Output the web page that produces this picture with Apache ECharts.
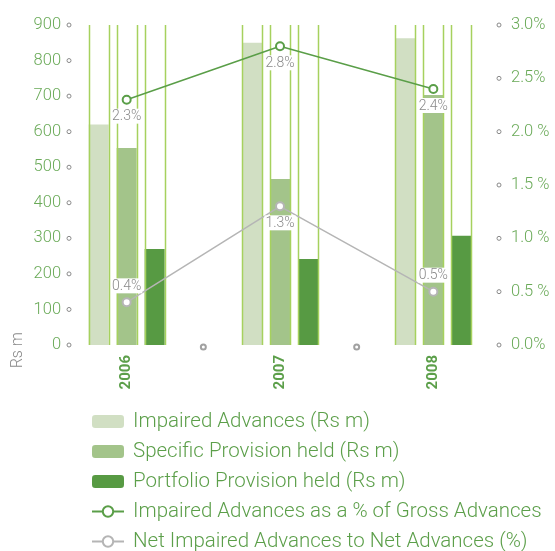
<!DOCTYPE html>
<html>
<head>
<meta charset="utf-8">
<style>
  html, body { margin: 0; padding: 0; background: #fff; }
  #chart { width: 555px; height: 551px; }
</style>
<script src="https://cdn.jsdelivr.net/npm/echarts@6/dist/echarts.min.js"></script>
</head>
<body>
<div id="chart"></div>
<script>
// Years on the category axis
const years = ['2006', '2007', '2008'];

// Amounts in Rs m
const impairedAdvances = [620, 850, 863];
const specificProvision = [554, 467, 703];
const portfolioProvision = [270, 242, 307];

// Ratios in %
const impairedPctGross = [2.3, 2.8, 2.4];
const netImpairedPct = [0.4, 1.3, 0.5];

// Tick labels
const leftTicks = ['0', '100', '200', '300', '400', '500', '600', '700', '800', '900'];
const rightTicks = ['0.0%', '0.5 %', '1.0 %', '1.5 %', '2.0 %', '2.5%', '3.0%'];

// Label placement for the net ratio line
const netLabelPlacement = ['top', 'bottom', 'top'];

// Small hollow markers between the year groups on the baseline
const groupSeparators = [0.5, 1.5];

const GREEN_TEXT = '#5c9f4a';
const LIME = '#a6d15e';
const BAR_W = 20;
const BAR_GAP_PX = 8;
const AMOUNT_MAX = 900;

const chart = echarts.init(document.getElementById('chart'), null, { renderer: 'canvas' });

const fontFamily = 'Roboto, "Liberation Sans", sans-serif';

const pctLabel = {
  show: true,
  formatter: p => p.value.toFixed(1) + '%',
  color: '#8a8a8a',
  fontSize: 14,
  fontFamily: fontFamily,
  fontWeight: 300,
  backgroundColor: '#fff',
  padding: [1, 1, 0, 1],
  distance: 4
};

const option = {
  animation: false,
  backgroundColor: '#fff',
  textStyle: { fontFamily: fontFamily },
  grid: { left: 50, right: 45, top: 25, bottom: 206, containLabel: false },
  legend: {
    orient: 'vertical',
    left: 91,
    top: 411,
    height: 200,
    padding: 0,
    itemWidth: 32,
    itemHeight: 13,
    itemGap: 9,
    textStyle: { color: GREEN_TEXT, fontSize: 20.5, fontWeight: 300, fontFamily: fontFamily, padding: [0, 0, 0, 4], lineHeight: 20 },
    data: [
      'Impaired Advances (Rs m)',
      'Specific Provision held (Rs m)',
      'Portfolio Provision held (Rs m)',
      'Impaired Advances as a % of Gross Advances',
      'Net Impaired Advances to Net Advances (%)'
    ]
  },
  graphic: [{
    type: 'text',
    left: 10,
    top: 332,
    rotation: Math.PI / 2,
    style: { text: 'Rs m', fill: '#8a8a8a', fontSize: 16, fontWeight: 300, fontFamily: fontFamily }
  }],
  xAxis: [{
    type: 'category',
    data: years,
    axisLine: { show: false },
    axisTick: { show: false },
    axisLabel: {
      rotate: 90,
      margin: 10,
      color: GREEN_TEXT,
      fontSize: 15,
      fontWeight: 'bold',
      fontFamily: fontFamily
    }
  }, {
    type: 'value',
    min: -0.5,
    max: 2.5,
    show: false
  }],
  yAxis: [{
    type: 'value',
    min: 0,
    max: AMOUNT_MAX,
    interval: 100,
    offset: -24,
    axisLine: { show: false },
    axisTick: { show: false },
    splitLine: { show: false },
    axisLabel: {
      margin: 3,
      formatter: (v, i) => '{v|' + leftTicks[i] + '}  {c|}',
      rich: {
        v: { color: '#6aaa58', fontSize: 16.5, fontWeight: 300, fontFamily: fontFamily },
        c: { width: 4, height: 4, borderColor: '#8a8a8a', borderWidth: 1, borderRadius: 3 }
      }
    }
  }, {
    type: 'value',
    min: 0,
    max: 3,
    interval: 0.5,
    offset: -13,
    axisLine: { show: false },
    axisTick: { show: false },
    splitLine: { show: false },
    axisLabel: {
      margin: 0,
      formatter: (v, i) => '{c|}{v|' + rightTicks[i] + '}',
      rich: {
        v: { color: '#6aaa58', fontSize: 16.5, fontWeight: 300, fontFamily: fontFamily, padding: [0, 0, 0, 10] },
        c: { width: 4, height: 4, borderColor: '#8a8a8a', borderWidth: 1, borderRadius: 3 }
      }
    }
  }],
  series: [
    {
      name: 'Impaired Advances (Rs m)',
      type: 'bar',
      data: impairedAdvances,
      barWidth: BAR_W,
      barGap: (BAR_GAP_PX / BAR_W * 100) + '%',
      itemStyle: { color: '#d1dfc3' },
      z: 2
    },
    {
      name: 'Specific Provision held (Rs m)',
      type: 'bar',
      data: specificProvision,
      barWidth: BAR_W,
      barGap: (BAR_GAP_PX / BAR_W * 100) + '%',
      itemStyle: { color: '#a3c48a' },
      z: 2
    },
    {
      name: 'Portfolio Provision held (Rs m)',
      type: 'bar',
      data: portfolioProvision,
      barWidth: BAR_W,
      barGap: (BAR_GAP_PX / BAR_W * 100) + '%',
      itemStyle: { color: '#579a43' },
      z: 2
    },
    {
      // Full-height lime guides along both edges of every bar
      type: 'custom',
      silent: true,
      z: 3,
      data: years.map((y, i) => [i]),
      renderItem: function (params, api) {
        const idx = api.value(0);
        const base = api.coord([idx, 0]);
        const top = api.coord([idx, AMOUNT_MAX]);
        const step = BAR_W + BAR_GAP_PX;
        const children = [];
        [-1, 0, 1].forEach(k => {
          const cx = base[0] + k * step;
          [-BAR_W / 2, BAR_W / 2].forEach(d => {
            const x = Math.round(cx + d) + 0.5;
            children.push({
              type: 'line',
              shape: { x1: x, y1: base[1], x2: x, y2: top[1] },
              style: { stroke: LIME, lineWidth: 1.5 }
            });
          });
        });
        return { type: 'group', children: children };
      }
    },
    {
      type: 'scatter',
      silent: true,
      xAxisIndex: 1,
      yAxisIndex: 0,
      data: groupSeparators.map(x => [x, 0]),
      symbol: 'emptyCircle',
      symbolSize: 5,
      symbolOffset: [0, 2],
      itemStyle: { color: '#8a8a8a', borderColor: '#8a8a8a', borderWidth: 1 },
      z: 4
    },
    {
      name: 'Impaired Advances as a % of Gross Advances',
      type: 'line',
      yAxisIndex: 1,
      data: impairedPctGross,
      symbol: 'emptyCircle',
      symbolSize: 8,
      lineStyle: { color: '#5a9e48', width: 1.5 },
      itemStyle: { color: '#5a9e48', borderWidth: 1.5 },
      label: Object.assign({}, pctLabel, { position: 'bottom' }),
      z: 6
    },
    {
      name: 'Net Impaired Advances to Net Advances (%)',
      type: 'line',
      yAxisIndex: 1,
      data: netImpairedPct.map((v, i) => ({
        value: v,
        label: { position: netLabelPlacement[i] }
      })),
      symbol: 'emptyCircle',
      symbolSize: 8,
      lineStyle: { color: '#b5b5b5', width: 1.5 },
      itemStyle: { color: '#b5b5b5', borderWidth: 1 },
      label: Object.assign({}, pctLabel, { position: 'top' }),
      z: 5
    }
  ]
};

chart.setOption(option);
</script>
</body>
</html>
